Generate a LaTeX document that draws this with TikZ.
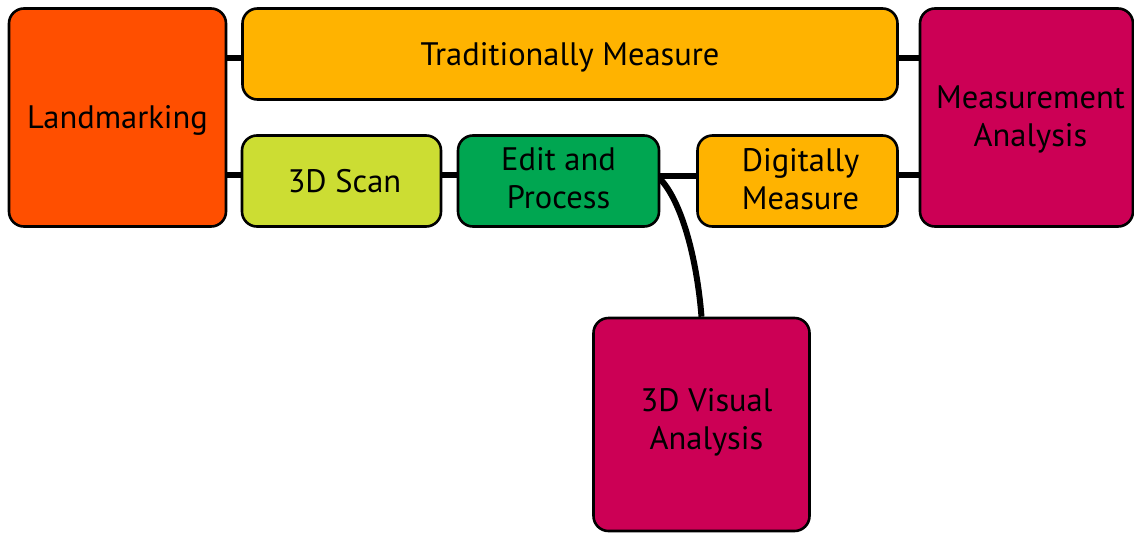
\documentclass[tikz,border=0pt]{standalone}
\usepackage{fontspec}
\setmainfont{PT Sans}
\usetikzlibrary{backgrounds}
\definecolor{cLand}{HTML}{FF4F00}
\definecolor{cAmber}{HTML}{FFB300}
\definecolor{cCrim}{HTML}{CC0055}
\definecolor{cLime}{HTML}{CCDD33}
\definecolor{cGreen}{HTML}{00A651}
\tikzset{
  box/.style={draw=black, line width=2.6pt, rounded corners=15pt, inner sep=0pt,
    align=center},
  lbl/.style={inner sep=0pt, align=center, font=\fontsize{32.5}{38.5}\selectfont},
  link/.style={line width=6pt, black},
}
\begin{document}
\begin{tikzpicture}[x=1pt,y=-1pt]
\useasboundingbox (0,0) rectangle (1134,533);
\node[box, fill=cLand, minimum width=217pt, minimum height=218pt] (lm) at (117.5,117.5) {};
\node[box, fill=cAmber, minimum width=655pt, minimum height=91pt] (trad) at (570,54) {};
\node[box, fill=cCrim, minimum width=213pt, minimum height=218pt] (ma) at (1026.5,117.5) {};
\node[box, fill=cLime, minimum width=199pt, minimum height=91pt] (scan) at (341.5,181) {};
\node[box, fill=cGreen, minimum width=201pt, minimum height=91pt] (edit) at (558.5,181) {};
\node[box, fill=cAmber, minimum width=200pt, minimum height=91pt] (dig) at (797.5,181) {};
\node[box, fill=cCrim, minimum width=216pt, minimum height=213pt] (vis) at (701.5,424.5) {};
\node[lbl] (lmT) at ([yshift=-3pt]lm.center) {Landmarking};
\node[lbl] (tradT) at ([yshift=-3pt]trad.center) {Traditionally Measure};
\node[lbl] (maT) at ([xshift=4pt,yshift=-2pt]ma.center) {Measurement\\Analysis};
\node[lbl] (scanT) at ([xshift=3pt]scan.center) {3D Scan};
\node[lbl] (editT) at ([yshift=3pt]edit.center) {Edit and\\Process};
\node[lbl] (digT) at ([xshift=3pt,yshift=2pt]dig.center) {Digitally\\Measure};
\node[lbl] (visT) at ([xshift=5pt,yshift=2pt]vis.center) {3D Visual\\Analysis};
\begin{scope}[on background layer]
\draw[link] ([yshift=-4pt]lm.east |- trad.west) -- ([yshift=-4pt]trad.west);
\draw[link] ([yshift=6pt]lm.east |- scan.west) -- ([yshift=6pt]scan.west);
\draw[link] ([yshift=6pt]scan.east) -- ([yshift=6pt]edit.west);
\draw[link] ([yshift=5pt]edit.east) -- ([yshift=5pt]dig.west);
\draw[link] ([yshift=6pt]dig.east) -- ([yshift=6pt]ma.west |- dig.east);
\draw[link] ([yshift=-4pt]trad.east) -- ([yshift=-4pt]ma.west |- trad.east);
\draw[link] ([xshift=-2pt,yshift=4pt]edit.east) .. controls (682,200) and (697,260) .. (vis.north);
\end{scope}
\end{tikzpicture}
\end{document}
